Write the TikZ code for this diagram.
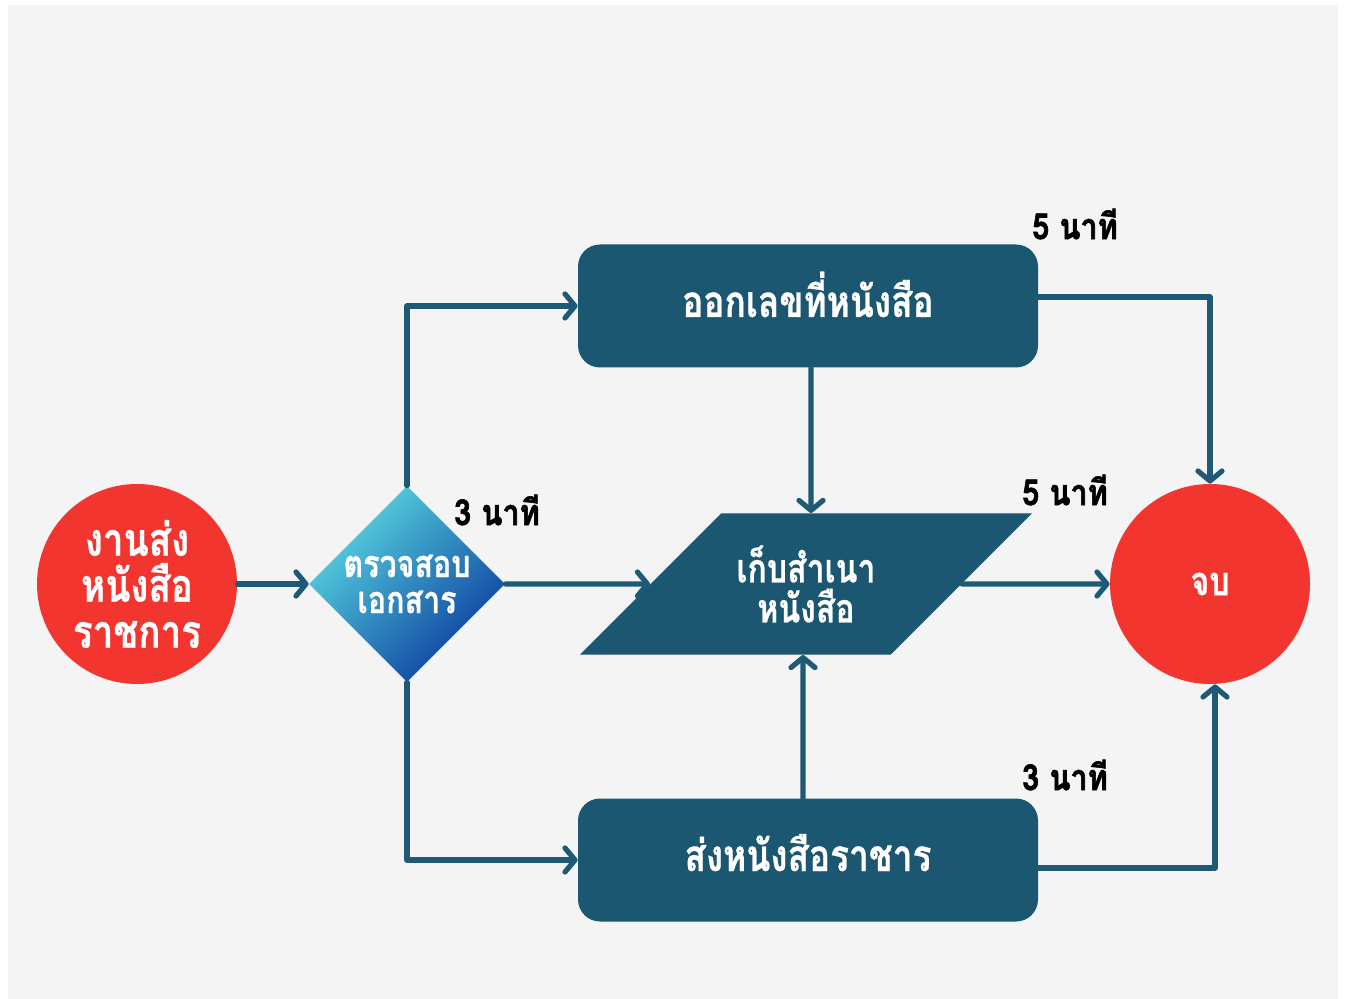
\documentclass[tikz,border=0pt]{standalone}
\usepackage{fontspec}
\newfontfamily\thaifont[Script=Thai,FakeStretch=0.8,BoldFeatures={FakeBold=0.6}]{Loma}
\newfontfamily\timefont[Script=Thai,FakeStretch=0.85,BoldFeatures={FakeBold=1.6}]{Loma}
\usetikzlibrary{shapes.geometric,arrows.meta}
\definecolor{boxblue}{HTML}{1B5771}
\definecolor{linkblue}{HTML}{1E5A76}
\definecolor{endred}{HTML}{F3352F}
\definecolor{diatop}{HTML}{5AD8E2}
\definecolor{diabot}{HTML}{0A3C9E}
\definecolor{paper}{HTML}{F4F4F4}
\begin{document}
\begin{tikzpicture}[x=0.5pt,y=-0.5pt,
  txt/.style={text=white,align=center,font=\thaifont\bfseries\fontsize{#1}{#1}\selectfont},
  redcircle/.style={circle,fill=endred,minimum size=100pt,inner sep=0pt},
  stepbox/.style={rectangle,rounded corners=11pt,fill=boxblue,minimum width=230pt,minimum height=61.5pt,
    text height=16pt,text depth=5pt,txt=22},
  link/.style={draw=linkblue,line width=2.6pt,line cap=round,line join=round},
  arr/.style={link,-{Straight Barb[length=5pt,width=12pt,round]}},
  timelbl/.style={text=black,font=\timefont\bfseries\fontsize{18}{18}\selectfont}]
\useasboundingbox (0,0) rectangle (1348,999);
\fill[white] (0,0) rectangle (1348,999);
\fill[paper] (8,5) rectangle (1338,999);

% nodes
\node[redcircle,txt=23] (start) at (137,584) {งานส่ง\\[0pt]หนังสือ\\[0pt]ราชการ};
\node[diamond,minimum width=98pt,minimum height=98pt,inner sep=0pt,
  top color=diatop,bottom color=diabot,shading angle=45,txt=19] (check) at (407,584) {ตรวจสอบ\\[-1pt]เอกสาร};
\node[stepbox] (number) at (808,306) {ออกเลขที่หนังสือ};
\node[stepbox] (send) at (808,860) {ส่งหนังสือราชาร};
\node[trapezium,trapezium left angle=45,trapezium right angle=135,trapezium stretches body,
  minimum width=226pt,inner xsep=0pt,inner ysep=16pt,fill=boxblue,txt=20] (copy) at (806,584) {เก็บสำเนา\\[0pt]หนังสือ};
\node[redcircle,txt=20] (finish) at (1210,584) {จบ};

% times
\node[timelbl] (tnumber) at (1075,224) {5 นาที};
\node[timelbl] (tcheck) at (497,510) {3 นาที};
\node[timelbl] (tcopy) at (1065,490) {5 นาที};
\node[timelbl] (tsend) at (1065,775) {3 นาที};

% links
\draw[arr] (start) -- (check);
\draw[arr] (check) -- (copy);
\draw[arr] (copy) -- (finish);
\draw[arr] (check.north) |- (number.west);
\draw[arr] (check.south) |- (send.west);
\draw[arr] ([xshift=1.5pt]number.south) -- ([xshift=2.5pt]copy.north);
\draw[arr] ([xshift=-2.5pt]send.north) -- ([xshift=-1.5pt]copy.south);
\draw[arr] ([yshift=4.5pt]number.east) -| (finish.north);
\draw[arr] ([yshift=-4pt]send.east) -| ([xshift=2.5pt]finish.south);
\end{tikzpicture}
\end{document}
